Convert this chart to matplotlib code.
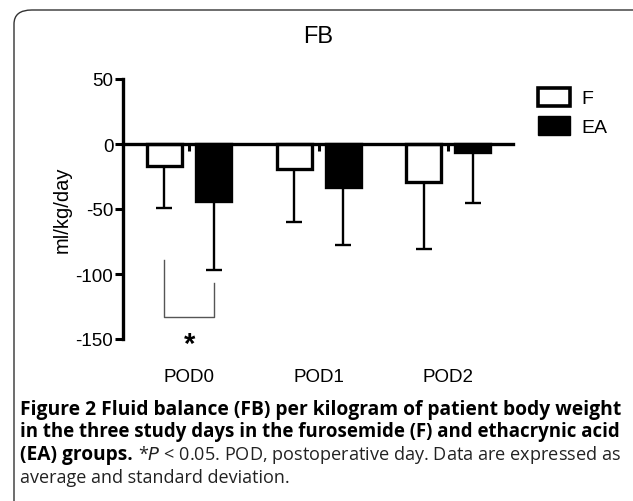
import numpy as np
import matplotlib
matplotlib.use("Agg")
import matplotlib.pyplot as plt
from matplotlib.patches import FancyBboxPatch, Patch
import matplotlib.transforms as mtransforms

plt.rcParams['font.family'] = ['Liberation Sans', 'DejaVu Sans']

# data (mean and SD, ml/kg/day)
days = ['POD0', 'POD1', 'POD2']
f_mean = [-17, -19, -29]
f_sd = [32, 41, 52]
ea_mean = [-44, -33, -6]
ea_sd = [53, 45, 39]
yticks = [50, 0, -50, -100, -150]

W, H = 633, 502
fig = plt.figure(figsize=(W / 100, H / 100), dpi=100)

# rounded frame around the figure (cut off at right and bottom)
frame = FancyBboxPatch((14 / W, -0.2), 1.2, 1.2 - 11 / H,
                       boxstyle="round,pad=0,rounding_size=0.028",
                       transform=fig.transFigure, fill=False,
                       edgecolor='#333333', linewidth=1.0)
fig.patches.append(frame)

ax = fig.add_axes([123 / W, 1 - 340 / H, (513 - 123) / W, 260 / H])

x = np.arange(len(days))
off = 0.19
bw = 0.27
lw = 2.4

ax.bar(x - off, f_mean, bw, color='white', edgecolor='black', linewidth=lw, zorder=3, label='F')
ax.bar(x + off, ea_mean, bw, color='black', edgecolor='black', linewidth=lw, zorder=3, label='EA')
ax.errorbar(x - off, f_mean, yerr=[f_sd, [0] * 3], fmt='none', ecolor='black',
            elinewidth=1.7, capsize=6, capthick=1.7, zorder=2)
ax.errorbar(x + off, ea_mean, yerr=[ea_sd, [0] * 3], fmt='none', ecolor='black',
            elinewidth=1.7, capsize=6, capthick=1.7, zorder=2)

ax.set_xlim(-0.51, 2.5)
ax.set_ylim(-150, 50)
ax.set_yticks(yticks)
ax.set_yticklabels([str(v) for v in yticks], fontsize=13.5)

for s in ['top', 'right']:
    ax.spines[s].set_visible(False)
ax.spines['left'].set_linewidth(2.4)
ax.spines['bottom'].set_position(('data', 0))
ax.spines['bottom'].set_linewidth(2.4)
ax.spines['bottom'].set_zorder(4)
ax.tick_params(axis='y', direction='out', length=6, width=2.2, pad=1)
ax.set_xticks(x)
ax.tick_params(axis='x', direction='out', length=5, width=2.2, labelbottom=False)

trans = mtransforms.blended_transform_factory(ax.transData, ax.transAxes)
for xi, d in zip(x, days):
    ax.text(xi, -0.145, d, transform=trans, ha='center', va='center', fontsize=13.5)

ax.set_ylabel('ml/kg/day', fontsize=14.5, labelpad=3)

# significance bracket for POD0
ax.plot([-off, -off, off, off], [-89, -133, -133, -107], color='#555555', lw=1.0, zorder=2)
ax.text(0, -154, '*', ha='center', va='center', fontsize=21, fontweight='bold', clip_on=False)

fig.text(318 / W, 1 - 37 / H, 'FB', ha='center', va='center', fontsize=17)

handles = [Patch(facecolor='white', edgecolor='black', linewidth=2.6, label='F'),
           Patch(facecolor='black', edgecolor='black', label='EA')]
fig.legend(handles=handles, loc='upper left', bbox_to_anchor=(520 / W, 1 - 71 / H),
           frameon=False, fontsize=14, handlelength=1.65, handleheight=1.1,
           labelspacing=0.45, handletextpad=0.6)

# caption, each full line fitted to the text block width (justified look)
cap_font = ['Open Sans', 'DejaVu Sans']
fs = 13.8
x0, x1 = 20, 621
r = fig.canvas.get_renderer()


def fit_text(xpix, ypix, s, right, **kw):
    t = fig.text(xpix / W, 1 - ypix / H, s, va='center', family=cap_font, fontsize=fs, **kw)
    w = t.get_window_extent(r).width
    t.set_fontsize(fs * (right - xpix) / w)
    return t


fit_text(x0, 410, 'Figure 2 Fluid balance (FB) per kilogram of patient body weight', x1,
         fontweight='bold')
fit_text(x0, 432, 'in the three study days in the furosemide (F) and ethacrynic acid', x1,
         fontweight='bold')
t1 = fig.text(x0 / W, 1 - 455 / H, '(EA) groups.', fontsize=fs, fontweight='bold',
              family=cap_font, va='center')
bb = t1.get_window_extent(r)
fit_text(bb.x1 + 5, 455, r'*$\it{P}$ < 0.05. POD, postoperative day. Data are expressed as', x1,
         color='#222222')
fig.text(x0 / W, 1 - 478 / H, 'average and standard deviation.', fontsize=fs - 0.8,
         family=cap_font, va='center', color='#222222')

fig.savefig('out.png', dpi=100)
